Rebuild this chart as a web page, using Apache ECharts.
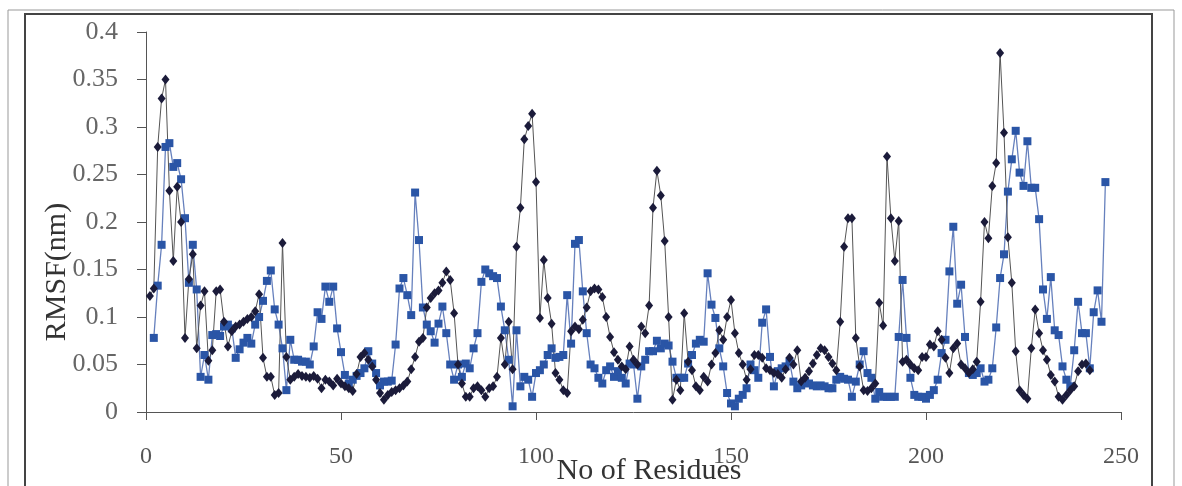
<!DOCTYPE html>
<html>
<head>
<meta charset="utf-8">
<title>RMSF</title>
<script src="https://cdn.jsdelivr.net/npm/echarts@6/dist/echarts.min.js"></script>
<style>
  html, body { margin: 0; padding: 0; background: #fff; }
  #chart { width: 1182px; height: 486px; }
</style>
</head>
<body>
<div id="chart"></div>
<script>
// RMSF per residue (index 0 = residue 1)
const rmsfA = [
  0.122, 0.13, 0.279, 0.33, 0.35, 0.233, 0.159, 0.237, 0.2, 0.078,
  0.14, 0.166, 0.067, 0.112, 0.127, 0.054, 0.065, 0.127, 0.129, 0.095,
  0.069, 0.085, 0.09, 0.092, 0.095, 0.098, 0.1, 0.106, 0.124, 0.057,
  0.037, 0.037, 0.018, 0.02, 0.178, 0.058, 0.034, 0.037, 0.04, 0.038,
  0.037, 0.036, 0.038, 0.035, 0.025, 0.034, 0.032, 0.028, 0.035, 0.03,
  0.027, 0.025, 0.022, 0.04, 0.058, 0.062, 0.055, 0.048, 0.034, 0.02,
  0.013, 0.018, 0.021, 0.023, 0.025, 0.028, 0.032, 0.045, 0.058, 0.074,
  0.078, 0.11, 0.12, 0.125, 0.128, 0.136, 0.148, 0.139, 0.104, 0.05,
  0.03, 0.016, 0.016, 0.025, 0.027, 0.023, 0.016, 0.025, 0.027, 0.037,
  0.078, 0.05, 0.095, 0.045, 0.174, 0.215, 0.287, 0.301, 0.314, 0.242,
  0.099, 0.16, 0.12, 0.093, 0.041, 0.034, 0.023, 0.02, 0.085, 0.09,
  0.087, 0.097, 0.11, 0.127, 0.13, 0.129, 0.121, 0.1, 0.079, 0.063,
  0.055, 0.048, 0.045, 0.069, 0.055, 0.05, 0.09, 0.083, 0.112, 0.215,
  0.254, 0.228, 0.18, 0.1, 0.013, 0.034, 0.023, 0.104, 0.053, 0.044,
  0.027, 0.023, 0.037, 0.032, 0.05, 0.062, 0.086, 0.076, 0.1, 0.118,
  0.083, 0.062, 0.05, 0.034, 0.045, 0.06, 0.06, 0.057, 0.046, 0.044,
  0.041, 0.04, 0.036, 0.045, 0.057, 0.05, 0.065, 0.032, 0.036, 0.043,
  0.051, 0.06, 0.067, 0.065, 0.058, 0.051, 0.044, 0.095, 0.174, 0.204,
  0.204, 0.078, 0.048, 0.023, 0.022, 0.025, 0.03, 0.115, 0.091, 0.269,
  0.204, 0.159, 0.201, 0.053, 0.055, 0.05, 0.046, 0.044, 0.058, 0.058,
  0.071, 0.069, 0.085, 0.076, 0.057, 0.041, 0.067, 0.072, 0.05, 0.046,
  0.041, 0.045, 0.053, 0.116, 0.2, 0.183, 0.238, 0.262, 0.378, 0.294,
  0.184, 0.136, 0.064, 0.023, 0.018, 0.014, 0.067, 0.108, 0.083, 0.065,
  0.055, 0.039, 0.032, 0.016, 0.013, 0.018, 0.023, 0.027, 0.043, 0.05,
  0.051, 0.044
]

const rmsfB = [
  null, 0.078, 0.133, 0.176, 0.279, 0.283, 0.258, 0.262, 0.245, 0.204,
  0.136, 0.176, 0.129, 0.037, 0.06, 0.034, 0.081, 0.082, 0.08, 0.09,
  0.092, 0.088, 0.057, 0.066, 0.073, 0.078, 0.072, 0.092, 0.1, 0.117,
  0.138, 0.149, 0.108, 0.092, 0.067, 0.023, 0.076, 0.055, 0.055, 0.053,
  0.053, 0.05, 0.069, 0.105, 0.098, 0.132, 0.116, 0.132, 0.088, 0.063,
  0.039, 0.03, 0.034, 0.038, 0.041, 0.046, 0.064, 0.051, 0.041, 0.028,
  0.032, 0.032, 0.033, 0.071, 0.13, 0.141, 0.123, 0.102, 0.231, 0.181,
  0.11, 0.092, 0.085, 0.073, 0.093, 0.111, 0.083, 0.05, 0.034, 0.05,
  0.037, 0.051, 0.046, 0.067, 0.083, 0.137, 0.15, 0.146, 0.143, 0.141,
  0.111, 0.086, 0.055, 0.006, 0.086, 0.027, 0.037, 0.034, 0.016, 0.041,
  0.044, 0.05, 0.06, 0.067, 0.057, 0.058, 0.06, 0.123, 0.072, 0.177,
  0.181, 0.127, 0.083, 0.05, 0.046, 0.036, 0.03, 0.044, 0.048, 0.037,
  0.043, 0.036, 0.03, 0.051, 0.05, 0.014, 0.048, 0.055, 0.064, 0.064,
  0.075, 0.067, 0.072, 0.07, 0.053, 0.036, 0.036, 0.036, 0.051, 0.06,
  0.072, 0.076, 0.074, 0.146, 0.113, 0.099, 0.067, 0.048, 0.02, 0.009,
  0.006, 0.014, 0.018, 0.025, 0.05, 0.044, 0.036, 0.094, 0.108, 0.058,
  0.027, 0.043, 0.046, 0.048, 0.053, 0.032, 0.025, 0.028, 0.032, 0.03,
  0.028, 0.027, 0.028, 0.027, 0.025, 0.025, 0.034, 0.037, 0.035, 0.034,
  0.016, 0.032, 0.05, 0.064, 0.041, 0.036, 0.014, 0.021, 0.016, 0.016,
  0.016, 0.016, 0.079, 0.139, 0.078, 0.036, 0.018, 0.016, 0.016, 0.014,
  0.018, 0.023, 0.034, 0.062, 0.076, 0.148, 0.195, 0.114, 0.134, 0.079,
  0.041, 0.039, 0.041, 0.046, 0.032, 0.034, 0.046, 0.089, 0.141, 0.166,
  0.232, 0.266, 0.296, 0.252, 0.238, 0.285, 0.236, 0.236, 0.203, 0.129,
  0.098, 0.142, 0.086, 0.081, 0.048, 0.034, 0.027, 0.065, 0.116, 0.083,
  0.083, 0.046, 0.105, 0.128, 0.095, 0.242
]

const xTicks = [0, 50, 100, 150, 200, 250]
const yTicks = [0, 0.05, 0.1, 0.15, 0.2, 0.25, 0.3, 0.35, 0.4]

const serif = '"Liberation Serif", "DejaVu Serif", serif'

// residue number is the position in the array + 1
const toPairs = arr => arr.map((v, i) => [i + 1, v])

const chart = echarts.init(document.getElementById('chart'))

const option = {
  backgroundColor: '#fff',
  animation: false,
  grid: {
    left: 146,
    right: 61,
    top: 32,
    bottom: 74
  },
  xAxis: {
    type: 'value',
    min: xTicks[0],
    max: xTicks[xTicks.length - 1],
    interval: 50,
    axisLine: { lineStyle: { color: '#555', width: 1 } },
    axisTick: { show: true, length: 8, lineStyle: { color: '#555' } },
    axisLabel: {
      margin: 33,
      color: '#555',
      fontFamily: serif,
      fontSize: 24
    },
    splitLine: { show: false }
  },
  yAxis: {
    type: 'value',
    min: yTicks[0],
    max: yTicks[yTicks.length - 1],
    interval: 0.05,
    axisLine: { show: true, lineStyle: { color: '#555', width: 1 } },
    axisTick: { show: true, length: 9, lineStyle: { color: '#555' } },
    axisLabel: {
      margin: 28,
      color: '#666',
      fontFamily: serif,
      fontSize: 26
    },
    splitLine: { show: false }
  },
  graphic: [
    // frame round the chart
    {
      type: 'rect',
      shape: { x: 8, y: 10, width: 1166, height: 490 },
      style: { fill: 'none', stroke: '#999', lineWidth: 1 },
      silent: true
    },
    {
      type: 'rect',
      shape: { x: 25, y: 14, width: 1127, height: 490 },
      style: { fill: 'none', stroke: '#444', lineWidth: 2 },
      silent: true
    },
    {
      type: 'text',
      x: 57,
      y: 272,
      rotation: Math.PI / 2,
      style: {
        text: 'RMSF(nm)',
        fontFamily: serif,
        fontSize: 30,
        fill: '#333',
        align: 'center',
        verticalAlign: 'middle'
      }
    },
    {
      type: 'text',
      x: 649,
      y: 471,
      style: {
        text: 'No of Residues',
        fontFamily: serif,
        fontSize: 30,
        fill: '#333',
        align: 'center',
        verticalAlign: 'middle'
      }
    }
  ],
  series: [
    {
      name: 'B',
      type: 'line',
      data: toPairs(rmsfB),
      symbol: 'rect',
      symbolSize: 8,
      itemStyle: { color: '#2a55a6' },
      lineStyle: { color: '#6680bd', width: 1.3 }
    },
    {
      name: 'A',
      type: 'line',
      data: toPairs(rmsfA),
      symbol: 'diamond',
      symbolSize: [8, 10],
      itemStyle: { color: '#1b1b3a' },
      lineStyle: { color: '#555', width: 1 }
    }
  ]
}

chart.setOption(option)
</script>
</body>
</html>
